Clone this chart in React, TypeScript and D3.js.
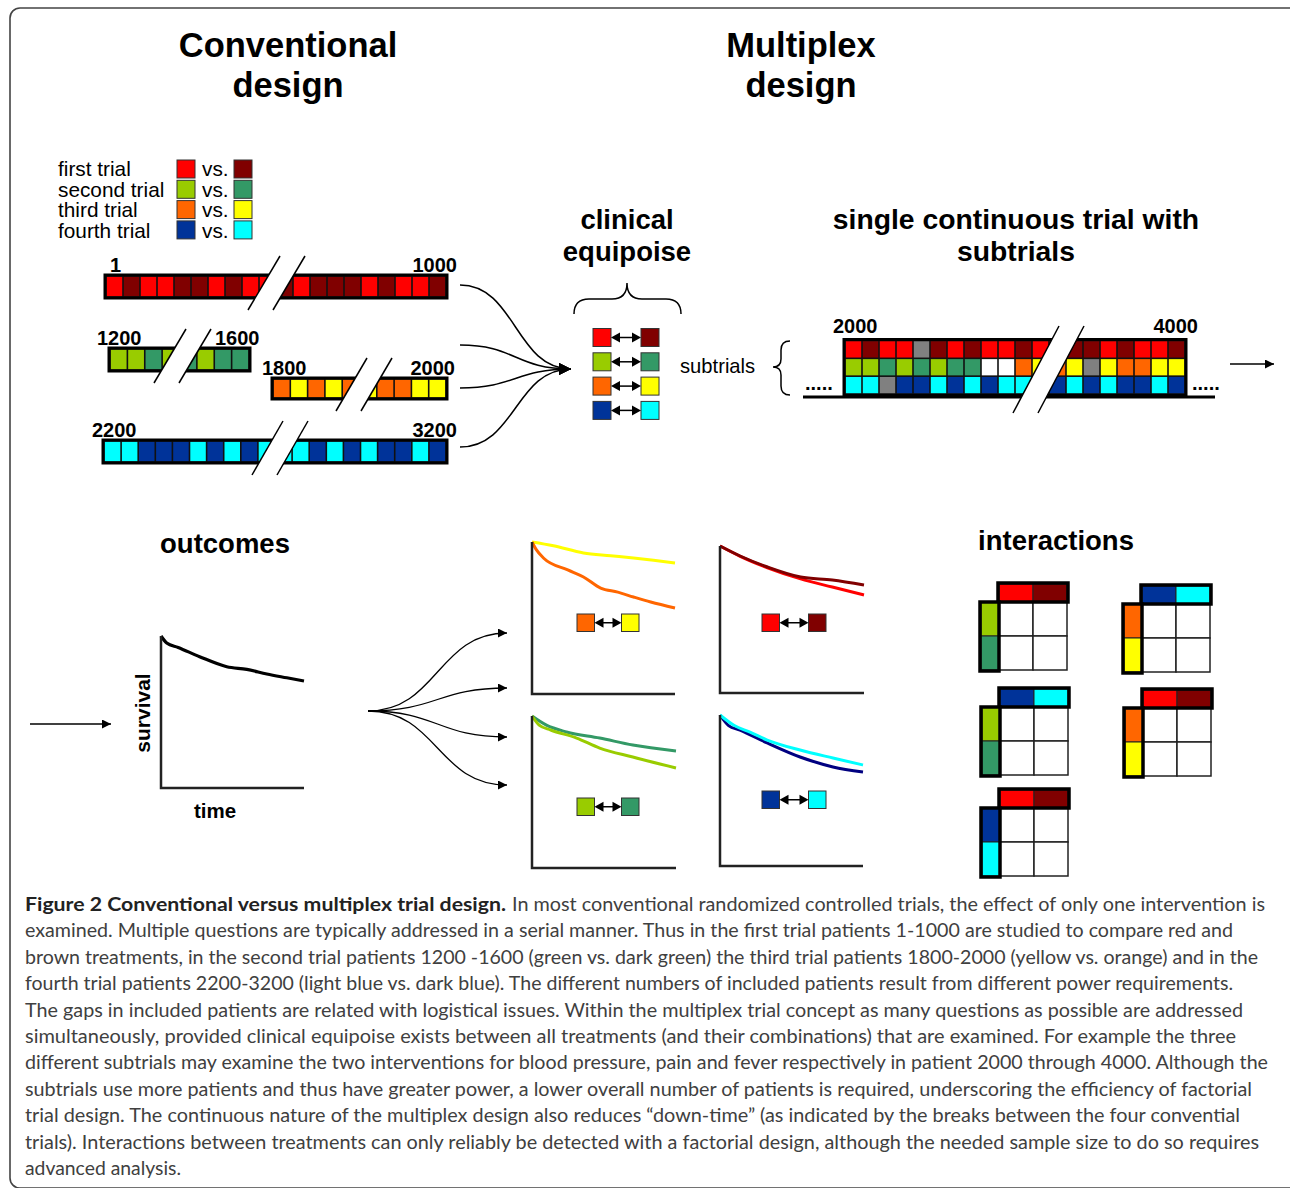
import React from 'react';
import * as d3 from 'd3';

// colour codes used in the cell strings
const PAL: Record<string, string> = {
  R: '#ff0000', D: '#800000', G: '#99cc00', E: '#339966',
  O: '#ff6600', Y: '#ffff00', B: '#003399', C: '#00ffff',
  X: '#808080', W: '#ffffff',
};

const legendTrials = ['first trial', 'second trial', 'third trial', 'fourth trial'];
const trialPairs = [['R', 'D'], ['G', 'E'], ['O', 'Y'], ['B', 'C']];

const trial1Cells = ['R','D','R','R','D','D','R','D','R','R','D','R','D','D','D','R','D','R','R','D'];
const trial2Cells = ['G','G','E','G','E','G','E','E'];
const trial3Cells = ['O','Y','O','Y','O','Y','O','O','Y','Y'];
const trial4Cells = ['C','C','B','B','B','C','B','C','B','C','C','C','B','C','B','C','B','B','C','B'];
const trialStartLabels = ['1', '1200', '1800', '2200'];
const trialEndLabels = ['1000', '1600', '2000', '3200'];

const multiRow1 = ['R','D','R','R','X','D','R','D','R','R','D','R','R','D','D','R','D','R','R','D'];
const multiRow2 = ['G','G','E','G','E','G','E','E','W','W','O','Y','O','Y','X','Y','O','O','Y','Y'];
const multiRow3 = ['C','C','X','B','B','C','B','C','B','C','C','B','B','C','B','C','B','B','C','B'];
const multiLabels = ['2000', '4000'];

// Kaplan-Meier style curves: [time 0..1, survival 0..1]
const overallCurve: [number, number][] = [[0,1],[0.04,0.954],[0.12,0.925],[0.27,0.864],[0.46,0.798],[0.6,0.78],[0.74,0.75],[0.88,0.725],[1,0.704]];
const yellowCurve: [number, number][] = [[0,1],[0.15,0.975],[0.36,0.928],[0.55,0.91],[0.71,0.895],[0.85,0.88],[1,0.862]];
const orangeCurve: [number, number][] = [[0,1],[0.03,0.95],[0.08,0.895],[0.25,0.816],[0.36,0.77],[0.48,0.697],[0.6,0.67],[0.71,0.638],[0.83,0.605],[1,0.566]];
const darkRedCurve: [number, number][] = [[0,1],[0.14,0.932],[0.33,0.857],[0.56,0.789],[0.78,0.769],[1,0.735]];
const redCurve: [number, number][] = [[0,1],[0.14,0.93],[0.33,0.852],[0.56,0.776],[0.78,0.721],[1,0.667]];
const darkGreenCurve: [number, number][] = [[0,1],[0.1,0.94],[0.24,0.895],[0.47,0.855],[0.7,0.809],[1,0.77]];
const lightGreenCurve: [number, number][] = [[0,1],[0.05,0.94],[0.13,0.908],[0.31,0.855],[0.47,0.789],[0.7,0.73],[1,0.658]];
const cyanCurve: [number, number][] = [[0,1],[0.1,0.93],[0.21,0.887],[0.33,0.834],[0.56,0.768],[0.79,0.715],[1,0.669]];
const navyCurve: [number, number][] = [[0,1],[0.06,0.93],[0.14,0.9],[0.33,0.815],[0.56,0.722],[0.79,0.656],[1,0.623]];

// interaction tables: [top pair, side pair]
const interactionTop = [['R','D'],['B','C'],['B','C'],['R','D'],['R','D']];
const interactionSide = [['G','E'],['O','Y'],['G','E'],['O','Y'],['B','C']];

const captionBold = 'Figure 2 Conventional versus multiplex trial design.';
const captionLines = [
  'In most conventional randomized controlled trials, the effect of only one intervention is',
  'examined. Multiple questions are typically addressed in a serial manner. Thus in the first trial patients 1-1000 are studied to compare red and',
  'brown treatments, in the second trial patients 1200 -1600 (green vs. dark green) the third trial patients 1800-2000 (yellow vs. orange) and in the',
  'fourth trial patients 2200-3200 (light blue vs. dark blue). The different numbers of included patients result from different power requirements.',
  'The gaps in included patients are related with logistical issues. Within the multiplex trial concept as many questions as possible are addressed',
  'simultaneously, provided clinical equipoise exists between all treatments (and their combinations) that are examined. For example the three',
  'different subtrials may examine the two interventions for blood pressure, pain and fever respectively in patient 2000 through 4000. Although the',
  'subtrials use more patients and thus have greater power, a lower overall number of patients is required, underscoring the efficiency of factorial',
  'trial design. The continuous nature of the multiplex design also reduces \u201cdown-time\u201d (as indicated by the breaks between the four convential',
  'trials). Interactions between treatments can only reliably be detected with a factorial design, although the needed sample size to do so requires',
  'advanced analysis.',
];
const captionLineEnds = [1265, 1233, 1258, 1233, 1243, 1236, 1268, 1252, 1240, 1259, 181];

const FONT = "'Liberation Sans', Arial, Helvetica, sans-serif";

const CellBar = ({ x0, x1, y0, y1, cells }: { x0: number; x1: number; y0: number; y1: number; cells: string[] }) => {
  const xs = d3.scaleBand<number>().domain(d3.range(cells.length)).range([x0, x1]);
  return (
    <g>
      <rect x={x0 - 1.5} y={y0 - 1.5} width={x1 - x0 + 3} height={y1 - y0 + 3} fill="#111" />
      {cells.map((c, i) => (
        <rect key={i} x={(xs(i) as number) + 0.8} y={y0 + 0.8} width={xs.bandwidth() - 1.6} height={y1 - y0 - 1.6} fill={PAL[c]} />
      ))}
      <rect x={x0 - 1} y={y0 - 1} width={x1 - x0 + 2} height={y1 - y0 + 2} fill="none" stroke="#000" strokeWidth={3} />
    </g>
  );
};

const Break = ({ xb, yb, xt, yt, gap }: { xb: number; yb: number; xt: number; yt: number; gap: number }) => (
  <g>
    <polygon points={`${xb},${yb} ${xt},${yt} ${xt + gap},${yt} ${xb + gap},${yb}`} fill="#fff" />
    <line x1={xb} y1={yb} x2={xt} y2={yt} stroke="#000" strokeWidth={1.5} />
    <line x1={xb + gap} y1={yb} x2={xt + gap} y2={yt} stroke="#000" strokeWidth={1.5} />
  </g>
);

const SwatchPair = ({ x, y, left, right, size = 18, gap = 30 }: { x: number; y: number; left: string; right: string; size?: number; gap?: number }) => {
  const ax0 = x + size, ax1 = x + size + gap, cy = y + size / 2;
  return (
    <g>
      <rect x={x} y={y} width={size} height={size} fill={PAL[left]} stroke="#333" strokeWidth={1} />
      <rect x={ax1} y={y} width={size} height={size} fill={PAL[right]} stroke="#333" strokeWidth={1} />
      <line x1={ax0 + 6} y1={cy} x2={ax1 - 6} y2={cy} stroke="#000" strokeWidth={1.5} />
      <path d={`M${ax0},${cy} L${ax0 + 9},${cy - 5} L${ax0 + 9},${cy + 5} Z`} fill="#000" />
      <path d={`M${ax1},${cy} L${ax1 - 9},${cy - 5} L${ax1 - 9},${cy + 5} Z`} fill="#000" />
    </g>
  );
};

const KMPanel = ({ ax0, ax1, ay0, ay1, curves, axisWidth = 2.5 }: { ax0: number; ax1: number; ay0: number; ay1: number; curves: { data: [number, number][]; color: string; w?: number }[]; axisWidth?: number }) => {
  const x = d3.scaleLinear().domain([0, 1]).range([ax0, ax1]);
  const y = d3.scaleLinear().domain([0, 1]).range([ay1, ay0]);
  const line = d3.line<[number, number]>().x(d => x(d[0])).y(d => y(d[1])).curve(d3.curveMonotoneX);
  return (
    <g>
      {curves.map((c, i) => (
        <path key={i} d={line(c.data) || ''} fill="none" stroke={c.color} strokeWidth={c.w ?? 3} strokeLinejoin="round" />
      ))}
      <path d={`M${ax0},${ay0} L${ax0},${ay1} L${ax1},${ay1}`} fill="none" stroke="#222" strokeWidth={axisWidth} />
    </g>
  );
};

const InteractionGrid = ({ gx, gy, top, side }: { gx: number; gy: number; top: string[]; side: string[] }) => {
  const size = 68;
  const band = d3.scaleBand<number>().domain([0, 1]).range([0, size]);
  const bw = band.bandwidth();
  return (
    <g>
      {[0, 1].map(r => [0, 1].map(c => (
        <rect key={`${r}-${c}`} x={gx + (band(c) as number)} y={gy + (band(r) as number)} width={bw} height={bw} fill="#fff" stroke="#222" strokeWidth={1.5} />
      )))}
      {top.map((t, i) => (
        <rect key={`t${i}`} x={gx + (band(i) as number)} y={gy - 18} width={bw} height={18} fill={PAL[t]} stroke="#222" strokeWidth={1} />
      ))}
      <rect x={gx - 1} y={gy - 19} width={size + 2} height={19} fill="none" stroke="#000" strokeWidth={3.5} />
      {side.map((s, i) => (
        <rect key={`s${i}`} x={gx - 18} y={gy + (band(i) as number)} width={18} height={bw} fill={PAL[s]} stroke="#222" strokeWidth={1} />
      ))}
      <rect x={gx - 19} y={gy} width={19} height={size + 1} fill="none" stroke="#000" strokeWidth={3.5} />
    </g>
  );
};

export default function App() {
  const link = d3.linkHorizontal<any, [number, number]>().x(d => d[0]).y(d => d[1]);

  const barLayout = [
    { x0: 106, x1: 446, y0: 276, y1: 297, cells: trial1Cells },
    { x0: 110, x1: 249, y0: 349, y1: 370, cells: trial2Cells },
    { x0: 273, x1: 446, y0: 379, y1: 398, cells: trial3Cells },
    { x0: 104, x1: 446, y0: 441, y1: 462, cells: trial4Cells },
  ];
  const barBreaks = [
    { xb: 248, yb: 310, xt: 280, yt: 256 },
    { xb: 154, yb: 383, xt: 186, yt: 329 },
    { xb: 336, yb: 411, xt: 367, yt: 358 },
    { xb: 252, yb: 475, xt: 283, yt: 421 },
  ];
  const startLabelPos = [[110, 272], [97, 345], [262, 375], [92, 437]];
  const endLabelPos = [[457, 272, 'end'], [215, 345, 'start'], [455, 375, 'end'], [457, 437, 'end']];
  const convergeStarts = [285, 345, 388, 447];
  const fanEnds = [633, 688, 737, 785];

  const multiRows = [multiRow1, multiRow2, multiRow3];
  const mx = d3.scaleBand<number>().domain(d3.range(20)).range([845, 1185]);
  const my = d3.scaleBand<number>().domain([0, 1, 2]).range([340.5, 394]);

  const gridPos = [[999, 602], [1142, 604], [1000, 707], [1143, 708], [1000, 808]];

  return (
    <svg width={1290} height={1188} style={{ position: 'absolute', left: 0, top: 0, background: '#fff' }} fontFamily={FONT}>
      <defs>
        <marker id="ahBig" viewBox="0 0 10 10" refX={10} refY={5} markerWidth={13} markerHeight={12} markerUnits="userSpaceOnUse" orient="auto">
          <path d="M0,0 L10,5 L0,10 Z" fill="#000" />
        </marker>
        <marker id="ah" viewBox="0 0 10 10" refX={10} refY={5} markerWidth={10} markerHeight={9} markerUnits="userSpaceOnUse" orient="auto">
          <path d="M0,0 L10,5 L0,10 Z" fill="#000" />
        </marker>
      </defs>

      {/* frame */}
      <rect x={10} y={8} width={1290} height={1180} rx={10} fill="none" stroke="#444" strokeWidth={1.6} />

      {/* titles */}
      <g fontWeight="bold" fontSize={34.5} textAnchor="middle" fill="#000">
        <text x={288} y={57}>Conventional</text>
        <text x={288} y={97}>design</text>
        <text x={801} y={57}>Multiplex</text>
        <text x={801} y={97}>design</text>
      </g>

      {/* legend */}
      {legendTrials.map((t, i) => (
        <g key={t}>
          <text x={58} y={176 + i * 20.5} fontSize={20.8}>{t}</text>
          <rect x={177} y={160 + i * 20.3} width={18} height={18} fill={PAL[trialPairs[i][0]]} stroke="#333" strokeWidth={1} />
          <text x={202} y={176 + i * 20.5} fontSize={20.8}>vs.</text>
          <rect x={234} y={160 + i * 20.3} width={18} height={18} fill={PAL[trialPairs[i][1]]} stroke="#333" strokeWidth={1} />
        </g>
      ))}

      {/* conventional trial bars */}
      {barLayout.map((b, i) => (
        <g key={i}>
          <CellBar {...b} />
          <Break {...barBreaks[i]} gap={25} />
          <text x={startLabelPos[i][0]} y={startLabelPos[i][1]} fontSize={20} fontWeight="bold">{trialStartLabels[i]}</text>
          <text x={endLabelPos[i][0] as number} y={endLabelPos[i][1] as number} fontSize={20} fontWeight="bold" textAnchor={endLabelPos[i][2] as any}>{trialEndLabels[i]}</text>
        </g>
      ))}

      {/* converging arrows */}
      {convergeStarts.map((y, i) => (
        <path key={i} d={link({ source: [460, y], target: [571, 369] }) || ''} fill="none" stroke="#000" strokeWidth={1.5} markerEnd="url(#ahBig)" />
      ))}

      {/* clinical equipoise */}
      <g fontWeight="bold" fontSize={27.5} textAnchor="middle">
        <text x={627} y={229}>clinical</text>
        <text x={627} y={261}>equipoise</text>
        <text x={1016} y={229} fontSize={28.3}>single continuous trial with</text>
        <text x={1016} y={261} fontSize={28.3}>subtrials</text>
      </g>
      <path d="M574,314 Q574,299 589,299 L612,299 Q627,299 627,283 Q627,299 642,299 L666,299 Q681,299 681,314" fill="none" stroke="#000" strokeWidth={1.5} />
      {trialPairs.map((p, i) => (
        <SwatchPair key={i} x={593} y={328.5 + i * 24.3} left={p[0]} right={p[1]} />
      ))}
      <text x={680} y={373} fontSize={20.2}>subtrials</text>
      <path d="M790,341 Q781,341 781,350 L781,359 Q781,367 773,367 Q781,367 781,375 L781,386 Q781,395 790,395" fill="none" stroke="#000" strokeWidth={1.5} />

      {/* multiplex bar */}
      <line x1={803} y1={397} x2={1215} y2={397} stroke="#000" strokeWidth={3} />
      <rect x={843.5} y={339} width={343} height={57} fill="#111" />
      {multiRows.map((row, r) => row.map((c, i) => (
        <rect key={`${r}-${i}`} x={(mx(i) as number) + 0.8} y={(my(r) as number) + 0.8} width={mx.bandwidth() - 1.6} height={my.bandwidth() - 1.6} fill={PAL[c]} />
      )))}
      <rect x={844} y={339.5} width={342} height={56} fill="none" stroke="#000" strokeWidth={3} />
      <Break xb={1013} yb={413} xt={1059} yt={326} gap={25} />
      <text x={833} y={333} fontSize={20} fontWeight="bold">{multiLabels[0]}</text>
      <text x={1198} y={333} fontSize={20} fontWeight="bold" textAnchor="end">{multiLabels[1]}</text>
      <text x={805} y={390} fontSize={20} fontWeight="bold">.....</text>
      <text x={1192} y={390} fontSize={20} fontWeight="bold">.....</text>
      <line x1={1230} y1={364} x2={1274} y2={364} stroke="#000" strokeWidth={1.5} markerEnd="url(#ah)" />

      {/* outcomes */}
      <text x={225} y={553} fontSize={27.5} fontWeight="bold" textAnchor="middle">outcomes</text>
      <line x1={30} y1={724} x2={111} y2={724} stroke="#000" strokeWidth={1.5} markerEnd="url(#ah)" />
      <KMPanel ax0={161} ax1={304} ay0={636} ay1={788} curves={[{ data: overallCurve, color: '#000', w: 3.2 }]} />
      <text transform="translate(150,713) rotate(-90)" fontSize={21} fontWeight="bold" textAnchor="middle">survival</text>
      <text x={215} y={818} fontSize={20.5} fontWeight="bold" textAnchor="middle">time</text>

      {fanEnds.map((y, i) => (
        <path key={i} d={link({ source: [368, 711], target: [507, y] }) || ''} fill="none" stroke="#000" strokeWidth={1.3} markerEnd="url(#ah)" />
      ))}

      <KMPanel ax0={532} ax1={675} ay0={542} ay1={694} curves={[{ data: yellowCurve, color: '#ffff00' }, { data: orangeCurve, color: '#ff6600' }]} />
      <SwatchPair x={577} y={614} left="O" right="Y" size={17.5} gap={27} />
      <KMPanel ax0={720} ax1={864} ay0={546} ay1={693} curves={[{ data: redCurve, color: '#ff0000' }, { data: darkRedCurve, color: '#800000' }]} />
      <SwatchPair x={762} y={614} left="R" right="D" size={17.5} gap={29} />
      <KMPanel ax0={532} ax1={676} ay0={716} ay1={868} curves={[{ data: darkGreenCurve, color: '#339966' }, { data: lightGreenCurve, color: '#99cc00' }]} />
      <SwatchPair x={577} y={798} left="G" right="E" size={17.5} gap={27} />
      <KMPanel ax0={720} ax1={863} ay0={715} ay1={866} curves={[{ data: navyCurve, color: '#000080' }, { data: cyanCurve, color: '#00ffff' }]} />
      <SwatchPair x={762} y={791} left="B" right="C" size={17.5} gap={29} />

      {/* interactions */}
      <text x={1056} y={550} fontSize={27.5} fontWeight="bold" textAnchor="middle">interactions</text>
      {gridPos.map((p, i) => (
        <InteractionGrid key={i} gx={p[0]} gy={p[1]} top={interactionTop[i]} side={interactionSide[i]} />
      ))}

      {/* caption */}
      <g fontFamily="Lato, 'Open Sans', sans-serif" fontSize={19.5} fill="#404040">
        <text x={25} y={911} fontWeight="bold" fill="#222" textLength={481} lengthAdjust="spacingAndGlyphs">{captionBold}</text>
        {captionLines.map((l, i) => {
          const x0 = i === 0 ? 512 : 25;
          return (
            <text key={i} x={x0} y={911 + i * 26.4} textLength={captionLineEnds[i] - x0} lengthAdjust="spacingAndGlyphs">{l}</text>
          );
        })}
      </g>
    </svg>
  );
}
